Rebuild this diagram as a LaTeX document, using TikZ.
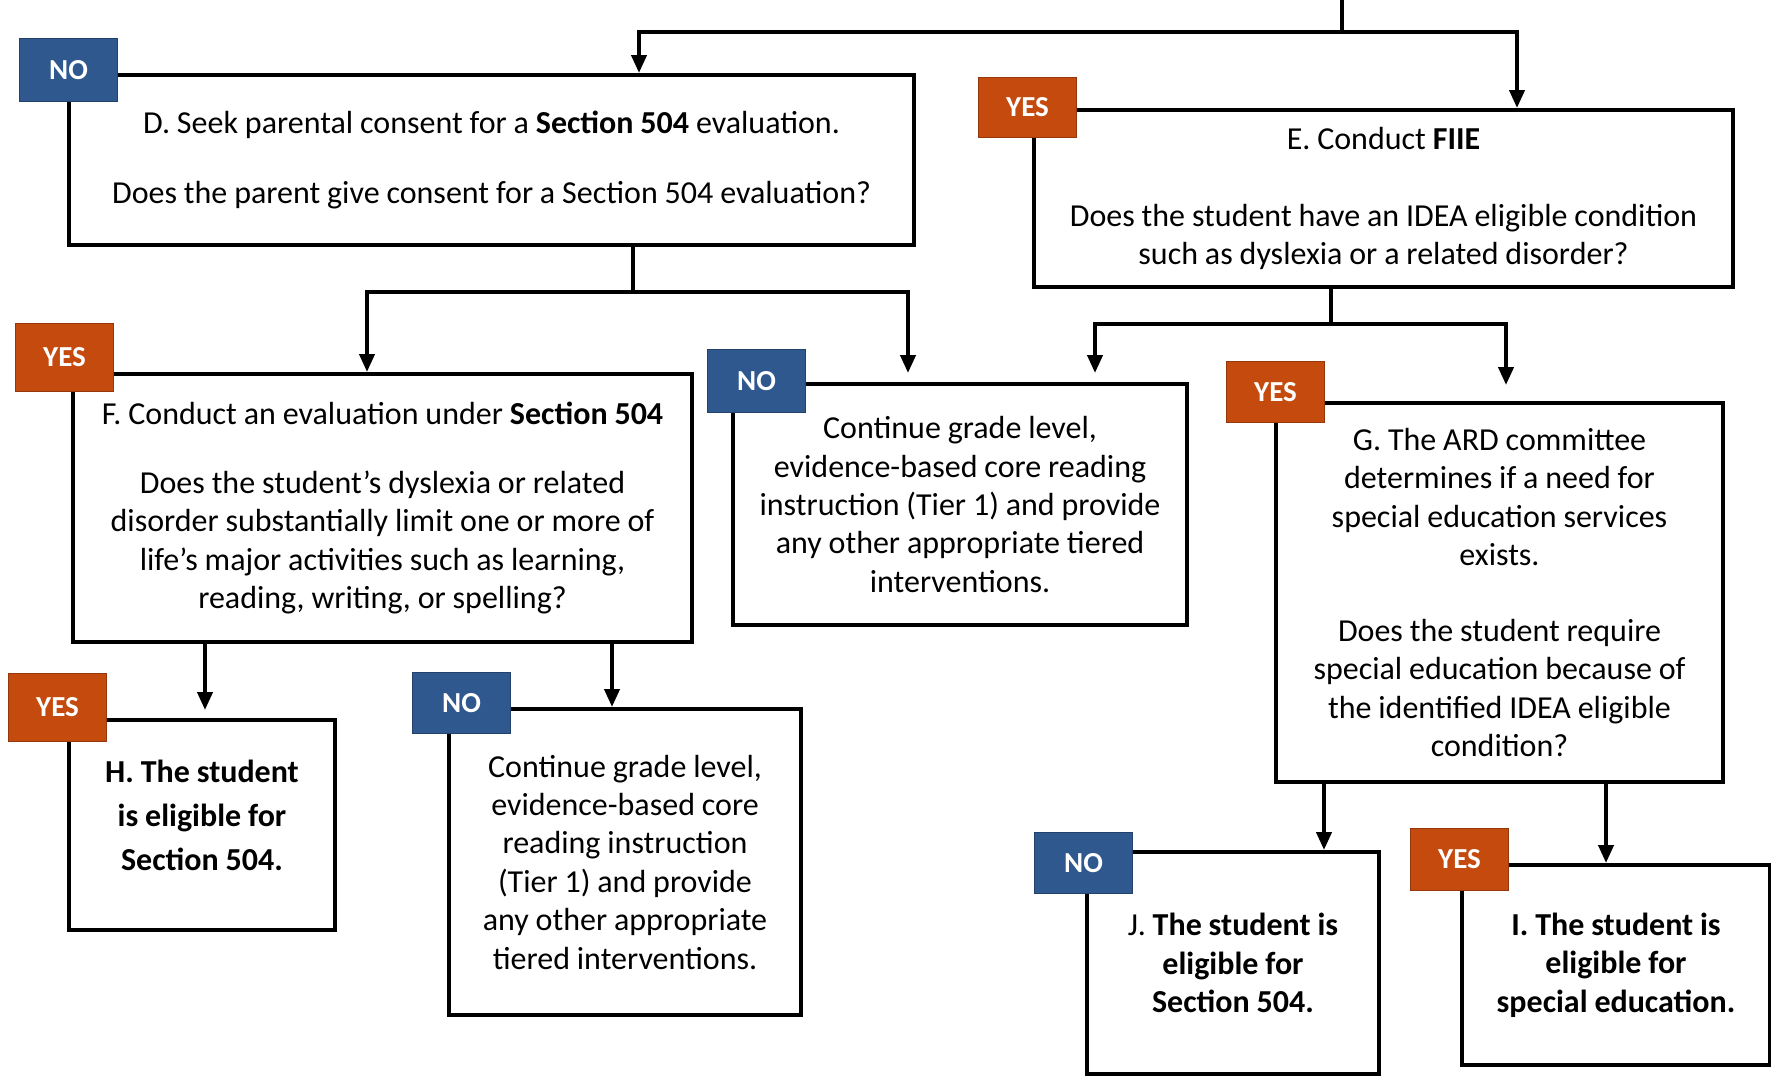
\documentclass[tikz,border=0pt]{standalone}
\usepackage{fontspec}
\setmainfont{Carlito}[WordSpace=0.95]
\usetikzlibrary{arrows.meta}
\definecolor{noblue}{RGB}{47,88,143}
\definecolor{yesorange}{RGB}{197,74,13}
\begin{document}
\begin{tikzpicture}[x=1pt,y=-1pt,
  box/.style={draw=black, line width=4pt, fill=white, anchor=north west, inner sep=0pt, align=center, font=\fontsize{32}{38.4}\selectfont},
  btxt/.style={inner sep=0pt, align=center, font=\fontsize{32}{38.4}\selectfont\bfseries},
  tag/.style={anchor=north west, minimum width=98pt, inner sep=0pt, text=white, font=\fontsize{29}{32}\selectfont\bfseries, draw=#1!75!black, line width=1pt, fill=#1},
  conn/.style={line width=4pt},
  arr/.style={conn, -{Triangle[length=18pt,width=15pt]}}
]
\useasboundingbox (0,0) rectangle (1771,1080);

% boxes
\node[box, minimum width=845pt, minimum height=170pt] (D) at (67,73)
  {D. Seek parental consent for a \textbf{Section 504} evaluation.\\[31.6pt]Does the parent give consent for a Section 504 evaluation?};
\node[box, minimum width=699pt, minimum height=177pt] (E) at (1032,108)
  {E. Conduct \textbf{FIIE}\\[38.6pt]Does the student have an IDEA eligible condition\\such as dyslexia or a related disorder?};
\node[box, minimum width=619pt, minimum height=268pt] (F) at (71,372)
  {F. Conduct an evaluation under \textbf{Section 504}\\[30.6pt]Does the student’s dyslexia or related\\disorder substantially limit one or more of\\life’s major activities such as learning,\\reading, writing, or spelling?};
\node[box, minimum width=454pt, minimum height=241pt] (K) at (731,382)
  {Continue grade level,\\evidence-based core reading\\instruction (Tier 1) and provide\\any other appropriate tiered\\interventions.};
\node[box, minimum width=447pt, minimum height=379pt] (G) at (1274,401)
  {G. The ARD committee\\determines if a need for\\special education services\\exists.\\[37.6pt]Does the student require\\special education because of\\the identified IDEA eligible\\condition?};
\node[box, minimum width=266pt, minimum height=210pt] (H) at (67,718) {};
\node[btxt] (Ht) at ([yshift=10pt]H.center) {H. The student\\[5.6pt]is eligible for\\[5.6pt]Section 504.};
\node[box, minimum width=352pt, minimum height=306pt] (L) at (447,707)
  {Continue grade level,\\evidence-based core\\reading instruction\\(Tier 1) and provide\\any other appropriate\\tiered interventions.};
\node[box, minimum width=292pt, minimum height=222pt, font=\fontsize{32}{38.4}\selectfont\bfseries] (J) at (1085,850)
  {{\mdseries J.} The student is\\eligible for\\Section 504.};
\node[box, minimum width=308pt, minimum height=200pt, font=\fontsize{32}{38.4}\selectfont\bfseries] (I) at (1460,863)
  {I. The student is\\eligible for\\special education.};

% connector coordinates
\coordinate (top) at (1342,0);
\coordinate (jT) at (1342,32);
\coordinate (xD) at (639,0);
\coordinate (xE) at (1517,0);
\coordinate (xDs) at (633,0);
\coordinate (hD) at (0,292);
\coordinate (xF) at (367,0);
\coordinate (xK1) at (908,0);
\coordinate (xEs) at (1331,0);
\coordinate (hE) at (0,324);
\coordinate (xK2) at (1095,0);
\coordinate (xG) at (1506,0);
\coordinate (xH) at (205,0);
\coordinate (xL) at (612,0);
\coordinate (xJ) at (1324,0);
\coordinate (xI) at (1606,0);

% connectors
\draw[conn] (top) -- (jT);
\draw[arr] (jT) -| (xD |- D.north);
\draw[arr] (jT) -| (xE |- E.north);

\draw[conn] (xDs |- D.south) -- (xDs |- hD) coordinate (jD);
\draw[arr] (jD) -| (xF |- F.north);
\draw[arr, shorten >=9pt] (jD) -| (xK1 |- K.north);

\draw[conn] (xEs |- E.south) -- (xEs |- hE) coordinate (jE);
\draw[arr, shorten >=9pt] (jE) -| (xK2 |- K.north);
\draw[arr, shorten >=16pt] (jE) -| (xG |- G.north);

\draw[arr, shorten >=8pt] (xH |- F.south) -- (xH |- H.north);
\draw[arr] (xL |- F.south) -- (xL |- L.north);

\draw[arr] (xJ |- G.south) -- (xJ |- J.north);
\draw[arr] (xI |- G.south) -- (xI |- I.north);

% tags
\node[tag=noblue, minimum height=63pt] (tD) at (19,38) {NO};
\node[tag=yesorange, minimum height=60pt] (tE) at (978,77) {YES};
\node[tag=yesorange, minimum height=68pt] (tF) at (15,323) {YES};
\node[tag=noblue, minimum height=63pt] (tK) at (707,349) {NO};
\node[tag=yesorange, minimum height=61pt] (tG) at (1226,361) {YES};
\node[tag=yesorange, minimum height=68pt] (tH) at (8,673) {YES};
\node[tag=noblue, minimum height=61pt] (tL) at (412,672) {NO};
\node[tag=noblue, minimum height=61pt] (tJ) at (1034,832) {NO};
\node[tag=yesorange, minimum height=62pt] (tI) at (1410,828) {YES};
\end{tikzpicture}
\end{document}
